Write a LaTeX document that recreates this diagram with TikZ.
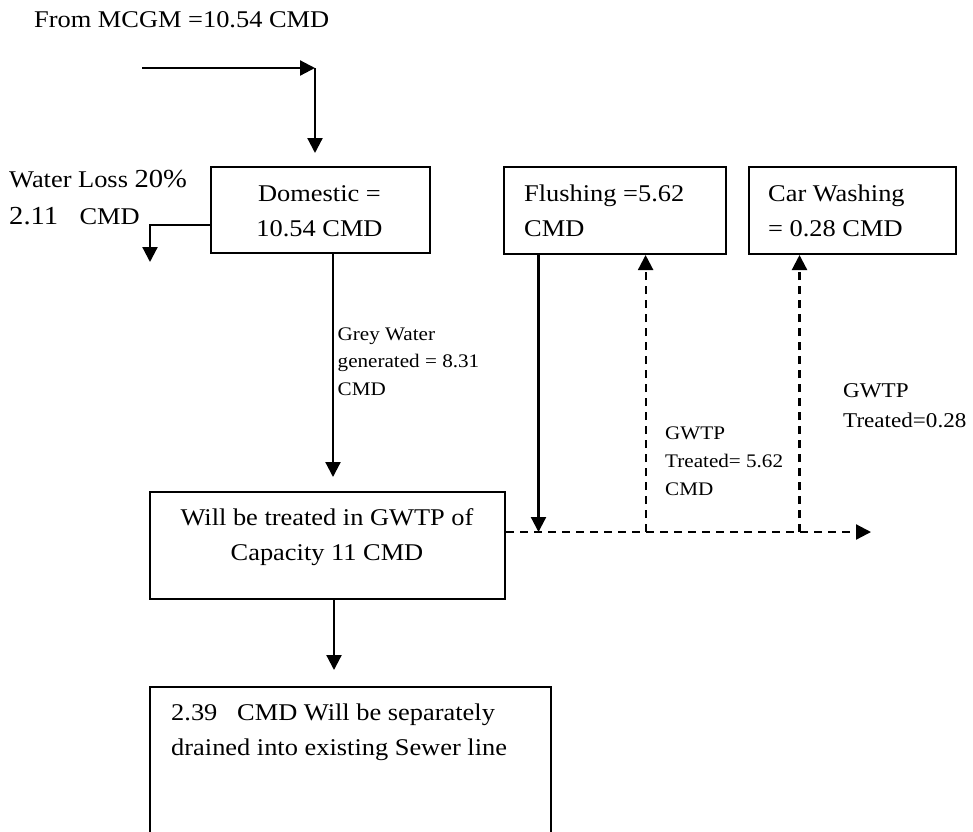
\documentclass[tikz,border=0pt]{standalone}
\usepackage{fontspec}
\setmainfont[FakeStretch=1.1]{Liberation Serif}
\usetikzlibrary{arrows.meta}
\begin{document}
\begin{tikzpicture}[x=1pt,y=-1pt,
  box/.style={draw, line width=2pt, inner sep=0pt, anchor=north west},
  big/.style={font=\fontsize{24}{35}\selectfont, inner sep=0pt},
  small/.style={font=\fontsize{19.2}{28}\selectfont, inner sep=0pt},
  mid/.style={font=\fontsize{21}{30}\selectfont, inner sep=0pt},
  tipA/.style={-{Triangle[length=15pt,width=15pt]}},
  flow/.style={line width=2.2pt, tipA},
  dashline/.style={line width=2.2pt, dash pattern=on 8pt off 6pt, tipA},
]
\useasboundingbox (0,0) rectangle (973,831);
\clip (0,0) rectangle (973,831);

% boxes
\node[box, minimum width=219pt, minimum height=86pt] (dom) at (210,166) {};
\node[box, minimum width=222pt, minimum height=87pt] (flush) at (503,166) {};
\node[box, minimum width=207pt, minimum height=87pt] (car) at (748,166) {};
\node[box, minimum width=355pt, minimum height=107pt] (will) at (149,491) {};
\node[box, minimum width=401pt, minimum height=200pt] (bot) at (149,686) {};

% texts
\node[big, anchor=base west] (from) at (34,27.5) {From MCGM =10.54 CMD};
\node[big, anchor=base west] (wl1) at (9,187) {Water Loss {\fontsize{26}{35}\selectfont 20\%}};
\node[big, anchor=base west] (wl2) at (9,224) {{\fontsize{26}{35}\selectfont 2.11\ \ \ }CMD};
\node[big, anchor=base] (dom1) at (319.5,201) {Domestic =};
\node[big, anchor=base] (dom2) at (319.5,236) {10.54 CMD};
\node[big, anchor=base west] (fl1) at (524,201) {Flushing =5.62};
\node[big, anchor=base west] (fl2) at (524,236) {CMD};
\node[big, anchor=base west] (cw1) at (768,201) {Car Washing};
\node[big, anchor=base west] (cw2) at (768,236) {= 0.28 CMD};
\node[small, anchor=base west] (gw1) at (337.5,340) {Grey Water};
\node[small, anchor=base west] (gw2) at (337.5,367) {generated = 8.31};
\node[small, anchor=base west] (gw3) at (337.5,395) {CMD};
\node[small, anchor=base west] (ta1) at (665,439) {GWTP};
\node[small, anchor=base west] (ta2) at (665,467) {Treated= 5.62};
\node[small, anchor=base west] (ta3) at (665,495) {CMD};
\node[mid, anchor=base west] (tb1) at (843,397) {GWTP};
\node[mid, anchor=base west] (tb2) at (843,427) {Treated=0.28};
\node[big, anchor=base] (wi1) at (327,525) {Will be treated in GWTP of};
\node[big, anchor=base] (wi2) at (327,560) {Capacity 11 CMD};
\node[big, anchor=base west] (bo1) at (171,720) {2.39\ \ \ CMD Will be separately};
\node[big, anchor=base west] (bo2) at (171,755) {drained into existing Sewer line};

% connectors
\coordinate (src) at (142,68);
\coordinate (corner) at (315,68);
\draw[flow] (src) -- (corner);
\draw[flow, shorten >=13pt] (corner) -- (corner |- dom.north);

\coordinate (wl) at (150,225);
\coordinate (wlend) at (150,262);
\draw[flow] (wl -| dom.west) -- (wl) -- (wlend);

\coordinate (gx) at (333,0);
\draw[flow, shorten >=14pt] (dom.south -| gx) -- (will.north -| gx);

\coordinate (wx) at (334,0);
\draw[flow, shorten >=16pt] (will.south -| wx) -- (bot.north -| wx);

\coordinate (fx) at (538.5,532);
\draw[flow] (flush.south -| fx) -- (fx);

\coordinate (dend) at (871,532);
\draw[dashline] (will.east |- dend) -- (dend);

\coordinate (d1) at (645.6,532);
\coordinate (d2) at (799.5,532);
\draw[dashline] (d1) -- (d1 |- flush.south);
\draw[dashline] (d2) -- (d2 |- car.south);
\end{tikzpicture}
\end{document}
